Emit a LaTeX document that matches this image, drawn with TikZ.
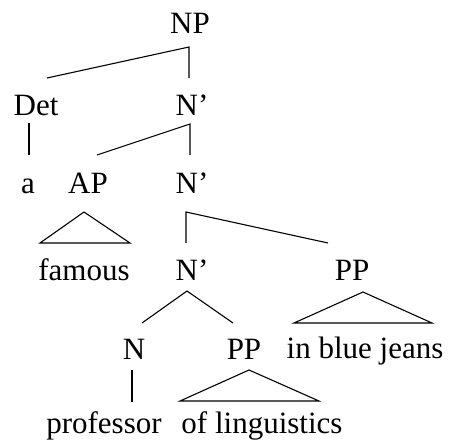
\documentclass[tikz,border=0pt]{standalone}
\usepackage{fontspec}
\setmainfont{Liberation Serif}
\usetikzlibrary{calc}
\begin{document}
\begin{tikzpicture}[x=1pt,y=-1pt,
  lbl/.style={anchor=base,inner sep=0pt,font=\fontsize{31}{36}\selectfont},
  edge/.style={line width=1.1pt,line join=miter}]
\useasboundingbox (0,0) rectangle (452,447);
\node[lbl] (NP) at (190,33) {NP};
\node[lbl] (Det) at (36,115) {Det};
\node[lbl] (N1) at (192,115) {N’};
\node[lbl] (a) at (28,193) {a};
\node[lbl] (AP) at (88,193) {AP};
\node[lbl] (N2) at (192,193) {N’};
\node[lbl] (famous) at (84,280) {famous};
\node[lbl] (N3) at (192,280) {N’};
\node[lbl] (PPr) at (352,280) {PP};
\node[lbl] (N) at (134,359) {N};
\node[lbl] (PPl) at (244,359) {PP};
\node[lbl] (jeans) at (365,358) {in blue jeans};
\node[lbl] (prof) at (104,433) {professor};
\node[lbl] (ling) at (262,433) {of linguistics};
% NP
\draw[edge] ($(Det.base)+(11,-37)$) -- ($(NP.base)+(-1,14)$) -- ($(N1.base)+(-3,-37)$);
% Det - a
\draw[edge] ($(Det.base)+(-7,8)$) -- ($(a.base)+(1,-38)$);
% N'1
\draw[edge] ($(AP.base)+(9,-38)$) -- ($(N1.base)+(-2,9)$) -- ($(N2.base)+(-2,-38)$);
% AP triangle
\draw[edge] ($(AP.base)+(-4,19)$) -- ($(famous.base)+(-44,-37)$) -- ($(famous.base)+(46,-37)$) -- cycle;
% N'2
\draw[edge] ($(N3.base)+(-6,-37)$) -- ($(N2.base)+(-6,19)$) -- ($(PPr.base)+(-24,-37)$);
% N'3
\draw[edge] ($(N.base)+(8,-36)$) -- ($(N3.base)+(-5,11)$) -- ($(PPl.base)+(-11,-36)$);
% PP right triangle
\draw[edge] ($(PPr.base)+(11,12)$) -- ($(jeans.base)+(-71,-35)$) -- ($(jeans.base)+(67,-35)$) -- cycle;
% N - professor
\draw[edge] ($(N.base)+(-2,11)$) -- ($(prof.base)+(28,-31)$);
% PP lower triangle
\draw[edge] ($(PPl.base)+(5,11)$) -- ($(ling.base)+(-82,-32)$) -- ($(ling.base)+(57,-32)$) -- cycle;
\end{tikzpicture}
\end{document}
